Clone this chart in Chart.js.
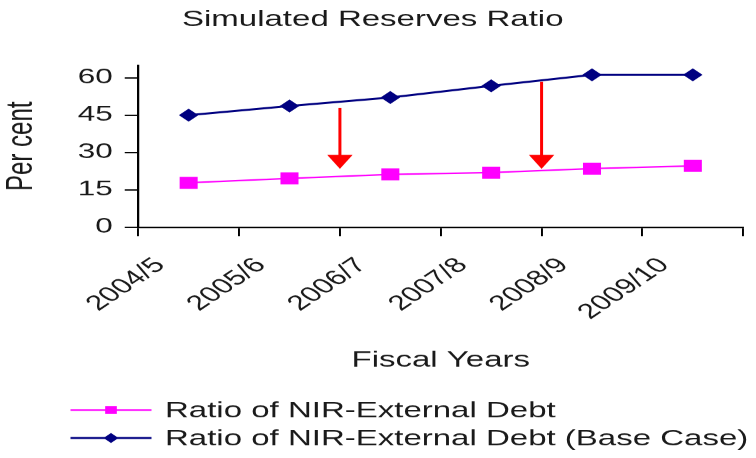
<!DOCTYPE html>
<html>
<head>
<meta charset="utf-8">
<script src="https://cdn.jsdelivr.net/npm/chart.js@4.4.1/dist/chart.umd.min.js"></script>
<style>
  html, body { margin: 0; padding: 0; background: #fff; overflow: hidden; }
  /* The reference is stretched sideways, so draw it narrow and widen it. */
  #wrap { width: 504px; height: 458px; transform: scaleX(1.5); transform-origin: 0 0; }
</style>
</head>
<body>
<div id="wrap"><canvas id="chart"></canvas></div>
<script>
// Fiscal years on the x axis.
const years = ['2004/5', '2005/6', '2006/7', '2007/8', '2008/9', '2009/10'];
// Ratio of NIR to external debt, per cent.
const nirDebt = [17.8, 19.6, 21.2, 21.9, 23.5, 24.6];
// Same ratio in the base case.
const nirDebtBase = [45.0, 48.7, 52.1, 56.8, 61.2, 61.2];
// Y tick values.
const yTicks = [0, 15, 30, 45, 60];
// Red arrows: position between categories, start and end value.
const arrowAt = [1.5, 3.5];
const arrowFrom = [47.9, 58.4];
const arrowTo = [23.4, 23.4];

const font = '"Liberation Sans", Arial, sans-serif';
const ink = '#1a1a1a';

// Draws the red downward arrows.
const arrows = {
    id: 'arrows',
    afterDatasetsDraw( chart ) {
        const ctx = chart.ctx;
        const xs = chart.scales.x, ys = chart.scales.y;
        ctx.save();
        ctx.strokeStyle = '#ff0000';
        ctx.fillStyle = '#ff0000';
        ctx.lineWidth = 2;
        arrowAt.forEach( ( at, i ) => {
            const x = xs.getPixelForValue( at );
            const y0 = ys.getPixelForValue( arrowFrom[i] );
            const y1 = ys.getPixelForValue( arrowTo[i] );
            ctx.beginPath();
            ctx.moveTo( x, y0 );
            ctx.lineTo( x, y1 - 12 );
            ctx.stroke();
            ctx.beginPath();
            ctx.moveTo( x - 8.5, y1 - 14 );
            ctx.lineTo( x + 8.5, y1 - 14 );
            ctx.lineTo( x, y1 );
            ctx.closePath();
            ctx.fill();
        });
        ctx.restore();
    }
};

// Legend as two left-aligned rows with line and marker.
const legendRows = {
    id: 'legendRows',
    afterDraw( chart ) {
        const ctx = chart.ctx;
        ctx.save();
        chart.data.datasets.forEach( ( ds, i ) => {
            const y = 410 + i * 28;
            ctx.strokeStyle = ds.borderColor;
            ctx.lineWidth = ds.borderWidth;
            ctx.beginPath();
            ctx.moveTo( 47, y );
            ctx.lineTo( 101, y );
            ctx.stroke();
            ctx.fillStyle = ds.pointBackgroundColor;
            ctx.strokeStyle = ds.pointBackgroundColor;
            Chart.helpers.drawPoint( ctx, { pointStyle: ds.pointStyle, radius: i === 0 ? 5.5 : 5, rotation: 0, borderWidth: 0 }, 74, y );
            ctx.fillStyle = ink;
            ctx.font = '22px ' + font;
            ctx.textBaseline = 'middle';
            ctx.fillText( ds.label, 110, y + 1 );
        });
        ctx.restore();
    }
};

new Chart( document.getElementById( 'chart' ), {
    type: 'line',
    data: {
        labels: years,
        datasets: [{
            label: 'Ratio of NIR-External Debt',
            data: nirDebt,
            borderColor: '#ff00ff',
            backgroundColor: '#ff00ff',
            pointBackgroundColor: '#ff00ff',
            borderWidth: 1.5,
            pointStyle: 'rect',
            pointRadius: 8.5,
            pointBorderWidth: 0
        }, {
            label: 'Ratio of NIR-External Debt (Base Case)',
            data: nirDebtBase,
            borderColor: '#000080',
            backgroundColor: '#000080',
            pointBackgroundColor: '#000080',
            borderWidth: 2,
            pointStyle: 'rectRot',
            pointRadius: 6.5,
            pointBorderWidth: 0
        }]
    },
    options: {
        responsive: true,
        maintainAspectRatio: false,
        devicePixelRatio: 1.5,
        animation: false,
        layout: { padding: { left: 0, right: 7, top: 0, bottom: 80 } },
        plugins: {
            legend: { display: false },
            tooltip: { enabled: false },
            title: {
                display: true,
                text: 'Simulated Reserves Ratio',
                color: ink,
                font: { family: font, size: 22, weight: 'normal' },
                padding: { top: 7, bottom: 32 }
            }
        },
        scales: {
            x: {
                offset: true,
                grid: { offset: true, drawOnChartArea: false, tickLength: 9, color: '#000', lineWidth: 1.3 },
                border: { color: '#000', width: 1.5 },
                ticks: { color: ink, minRotation: 45, maxRotation: 45, labelOffset: -19, padding: 17, font: { family: font, size: 21 } },
                title: { display: true, text: 'Fiscal Years', color: ink, font: { family: font, size: 22 }, padding: { top: 6 } }
            },
            y: {
                min: 0,
                max: 65,
                afterBuildTicks: s => { s.ticks = yTicks.map( v => ( { value: v } ) ); },
                grid: { drawOnChartArea: false, tickLength: 9, color: '#000', lineWidth: 1.3 },
                border: { color: '#000', width: 1.5 },
                ticks: { color: ink, padding: 8, font: { family: font, size: 21 } },
                title: { display: true, text: 'Per cent', color: ink, font: { family: font, size: 24 }, padding: { top: 0, bottom: 15 } }
            }
        }
    },
    plugins: [arrows, legendRows]
});
</script>
</body>
</html>
